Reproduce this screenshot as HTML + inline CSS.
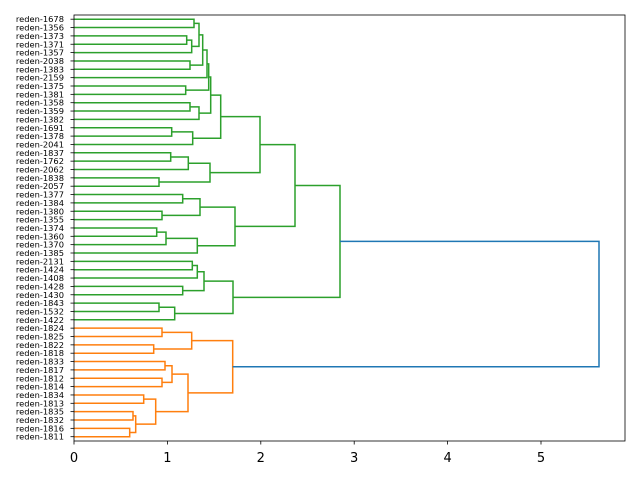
<!DOCTYPE html>
<html><head><meta charset="utf-8"><style>
html,body{margin:0;padding:0;background:#fff;}
svg{display:block;font-family:"DejaVu Sans","Liberation Sans",sans-serif;}
</style></head><body>
<svg id="s" width="640" height="480" xmlns="http://www.w3.org/2000/svg"></svg>
<script>
var labels="1678,1356,1373,1371,1357,2038,1383,2159,1375,1381,1358,1359,1382,1691,1378,2041,1837,1762,2062,1838,2057,1377,1384,1380,1355,1374,1360,1370,1385,2131,1424,1408,1428,1430,1843,1532,1422,1824,1825,1822,1818,1833,1817,1812,1814,1834,1813,1835,1832,1816,1811".split(",");
var s=document.getElementById('s'),out='';
function Y(i){return 19.2+8.35*i;}
var G='#2ca02c',O='#ff7f0e',B='#1f77b4';
function L(i){return {x:74,y:Y(i)};}
function M(a,b,x,c){out+='<polyline fill="none" stroke="'+c+'" stroke-width="1.5" points="'+a.x+','+a.y+' '+x+','+a.y+' '+x+','+b.y+' '+b.x+','+b.y+'"/>';return {x:x,y:(a.y+b.y)/2};}
var A=M(L(0),L(1),194,G),Bb=M(L(2),L(3),186.7,G),C=M(Bb,L(4),191.7,G),D=M(A,C,199,G),E=M(L(5),L(6),190,G),F=M(D,E,202.7,G),Gg=M(F,L(7),207,G),H=M(L(8),L(9),185.7,G),I=M(Gg,H,208.7,G),J=M(L(10),L(11),190,G),K=M(J,L(12),199,G),Ll=M(I,K,210.7,G),Mm=M(L(13),L(14),171.7,G),N=M(Mm,L(15),192.7,G),Oo=M(Ll,N,220.7,G);
var P=M(L(16),L(17),170.7,G),Q=M(P,L(18),188.3,G),R=M(L(19),L(20),159,G),S=M(Q,R,210,G),T=M(Oo,S,260,G);
var U=M(L(21),L(22),182.7,G),V=M(L(23),L(24),162,G),W=M(U,V,200,G),X=M(L(25),L(26),156.7,G),Yy=M(X,L(27),166,G),Z=M(Yy,L(28),197.3,G),AA=M(W,Z,235,G);
var AB=M(L(29),L(30),192.3,G),AC=M(AB,L(31),197.3,G),AD=M(L(32),L(33),182.7,G),AE=M(AC,AD,204,G),AF=M(L(34),L(35),159,G),AG=M(AF,L(36),174.7,G),AH=M(AE,AG,233,G);
var g1=M(T,AA,295,G),g2=M(g1,AH,340,G);
var a=M(L(37),L(38),162,O),b=M(L(39),L(40),153.7,O),c=M(a,b,191.7,O),d=M(L(41),L(42),165,O),e=M(L(43),L(44),162,O),f=M(d,e,172,O),g=M(L(45),L(46),143.7,O),h=M(L(47),L(48),133,O),i2=M(L(49),L(50),129.7,O),j=M(h,i2,135.7,O),k=M(g,j,155.7,O),l=M(f,k,188,O),m=M(c,l,232.7,O);
M(g2,m,599,B);
for(var i=0;i<labels.length;i++){var y=Y(i);out+='<line x1="70.5" y1="'+y+'" x2="74" y2="'+y+'" stroke="#000" stroke-width="0.8"/><text x="64" y="'+(y+3)+'" font-size="8.3" text-anchor="end">reden-'+labels[i]+'</text>';}
for(var t=0;t<=5;t++){var x=74+93.4*t;out+='<line x1="'+x+'" y1="441" x2="'+x+'" y2="444.5" stroke="#000" stroke-width="0.8"/><text x="'+x+'" y="462" font-size="13" text-anchor="middle">'+t+'</text>';}
out+='<rect x="74" y="15" width="551" height="426" fill="none" stroke="#000" stroke-width="0.8"/>';
s.innerHTML=out;
</script>
</body></html>
